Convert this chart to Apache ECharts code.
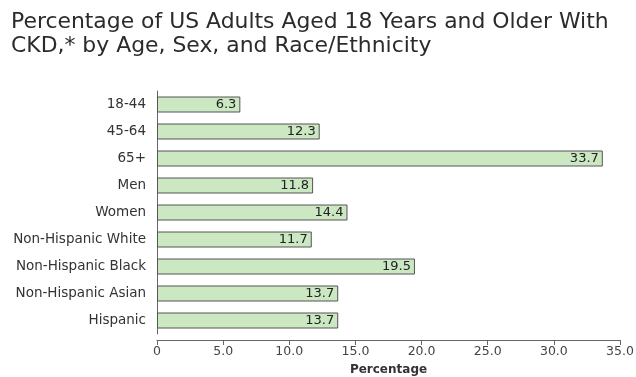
<!DOCTYPE html>
<html>
<head>
<meta charset="utf-8">
<script src="https://cdn.jsdelivr.net/npm/echarts@6/dist/echarts.min.js"></script>
<style>
  html, body { margin: 0; padding: 0; background: #fff; }
  #chart { width: 636px; height: 377px; }
</style>
</head>
<body>
<div id="chart"></div>
<script>
// categories top to bottom
var categories = [
    "18-44",
    "45-64",
    "65+",
    "Men",
    "Women",
    "Non-Hispanic White",
    "Non-Hispanic Black",
    "Non-Hispanic Asian",
    "Hispanic"
];
var percentages = [6.3, 12.3, 33.7, 11.8, 14.4, 11.7, 19.5, 13.7, 13.7];

var chart = echarts.init(document.getElementById("chart"));
chart.setOption({
    animation: false,
    title: {
        text: "Percentage of US Adults Aged 18 Years and Older With\nCKD,* by Age, Sex, and Race/Ethnicity",
        left: 6,
        top: 5,
        textStyle: {
            fontFamily: "DejaVu Sans",
            fontWeight: "normal",
            fontSize: 21.9,
            lineHeight: 24,
            color: "#2b2b2b"
        }
    },
    grid: {
        left: 157,
        right: 16,
        top: 91,
        height: 243,
        outerBoundsMode: "none"
    },
    xAxis: {
        type: "value",
        min: 0,
        max: 35,
        interval: 5,
        offset: 6,
        name: "Percentage",
        nameLocation: "middle",
        nameGap: 24,
        nameTextStyle: {
            fontFamily: "DejaVu Sans",
            fontWeight: "bold",
            fontSize: 12,
            color: "#333"
        },
        axisLine: { show: true, lineStyle: { color: "#666", width: 1 } },
        axisTick: { show: true, length: 5, lineStyle: { color: "#666" } },
        splitLine: { show: false },
        axisLabel: {
            fontFamily: "DejaVu Sans",
            fontSize: 12.5,
            color: "#444",
            margin: 5,
            formatter: function (v) { return v === 0 ? "0" : v.toFixed(1); }
        }
    },
    yAxis: {
        type: "category",
        data: categories,
        inverse: true,
        axisLine: { show: true, lineStyle: { color: "#666", width: 1 } },
        axisTick: { show: false },
        axisLabel: {
            fontFamily: "DejaVu Sans",
            fontSize: 13.5,
            color: "#333",
            margin: 11
        }
    },
    series: [
        {
            type: "bar",
            data: percentages,
            barWidth: 16,
            itemStyle: {
                color: "#cbe8c3",
                borderColor: "#555",
                borderWidth: 1
            },
            label: {
                show: true,
                position: "insideRight",
                distance: 4,
                fontFamily: "DejaVu Sans",
                fontSize: 13,
                color: "#222",
                formatter: function (p) { return p.value.toFixed(1); }
            }
        }
    ]
});
</script>
</body>
</html>
